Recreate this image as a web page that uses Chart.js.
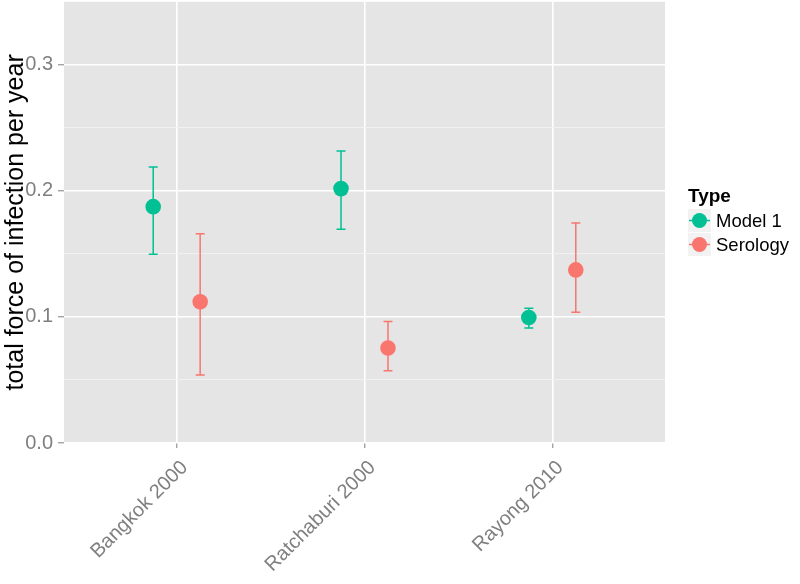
<!DOCTYPE html>
<html>
<head>
<meta charset="utf-8">
<script src="https://cdn.jsdelivr.net/npm/chart.js@4/dist/chart.umd.min.js"></script>
<style>
  html, body { margin: 0; padding: 0; background: #fff; }
  #marco { width: 800px; height: 584px; overflow: hidden; }
  #grafico { display: block; }
</style>
</head>
<body>
<div id="marco"><canvas id="grafico" width="800" height="584"></canvas></div>
<script>
// datos
const categorias = ['Bangkok 2000', 'Ratchaburi 2000', 'Rayong 2010'];
const model1 = [0.1875, 0.2018, 0.0995];
const model1Bajo = [0.1497, 0.1696, 0.0913];
const model1Alto = [0.2190, 0.2317, 0.1069];
const serology = [0.1121, 0.0754, 0.1373];
const serologyBajo = [0.0540, 0.0574, 0.1037];
const serologyAlto = [0.1659, 0.0963, 0.1746];
const yTicks = [0, 0.1, 0.2, 0.3];

const series = [
    { nombre: 'Model 1', color: '#00C094', valores: model1, bajo: model1Bajo, alto: model1Alto, dodge: -0.125 },
    { nombre: 'Serology', color: '#F8766D', valores: serology, bajo: serologyBajo, alto: serologyAlto, dodge: 0.125 }
];

const fuente = "'Liberation Sans', Arial, sans-serif";
Chart.defaults.font.family = fuente;

// desplazamiento vertical del lienzo (se ajusta tras el primer dibujo)
let extra = 0;

// fondo gris del panel
const fondoPanel = {
    id: 'fondoPanel',
    beforeDraw(chart) {
        const a = chart.chartArea;
        const ctx = chart.ctx;
        ctx.save();
        ctx.fillStyle = '#E5E5E5';
        ctx.fillRect(a.left, a.top, a.right - a.left, a.bottom - a.top);
        ctx.restore();
    }
};

// barras de error
const barrasError = {
    id: 'barrasError',
    beforeDatasetsDraw(chart) {
        const ctx = chart.ctx;
        const y = chart.scales.y;
        ctx.save();
        ctx.lineWidth = 1.5;
        series.forEach((s, di) => {
            const meta = chart.getDatasetMeta(di);
            ctx.strokeStyle = s.color;
            meta.data.forEach((p, i) => {
                const y1 = y.getPixelForValue(s.bajo[i]);
                const y2 = y.getPixelForValue(s.alto[i]);
                ctx.beginPath();
                ctx.moveTo(p.x, y1); ctx.lineTo(p.x, y2);
                ctx.moveTo(p.x - 4.5, y1); ctx.lineTo(p.x + 4.5, y1);
                ctx.moveTo(p.x - 4.5, y2); ctx.lineTo(p.x + 4.5, y2);
                ctx.stroke();
            });
        });
        ctx.restore();
    }
};

// leyenda estilo ggplot
const leyenda = {
    id: 'leyenda',
    afterDraw(chart) {
        const ctx = chart.ctx;
        const x0 = 688, y0 = 209 + extra, lado = 23;
        ctx.save();
        ctx.fillStyle = '#000';
        ctx.font = 'bold 19px ' + fuente;
        ctx.textBaseline = 'alphabetic';
        ctx.fillText('Type', x0, 202 + extra);
        series.forEach((s, i) => {
            const ky = y0 + i * (lado + 1);
            ctx.fillStyle = '#F2F2F2';
            ctx.fillRect(x0, ky, lado, lado);
            ctx.strokeStyle = s.color;
            ctx.lineWidth = 1.5;
            ctx.beginPath();
            ctx.moveTo(x0 + 1, ky + lado / 2);
            ctx.lineTo(x0 + lado - 1, ky + lado / 2);
            ctx.stroke();
            ctx.fillStyle = s.color;
            ctx.beginPath();
            ctx.arc(x0 + lado / 2, ky + lado / 2, 7.5, 0, Math.PI * 2);
            ctx.fill();
            ctx.fillStyle = '#000';
            ctx.font = '18.5px ' + fuente;
            ctx.textBaseline = 'middle';
            ctx.fillText(s.nombre, x0 + lado + 5, ky + lado / 2 + 1);
        });
        ctx.restore();
    }
};

const esMayor = v => yTicks.some(t => Math.abs(t - v) < 1e-9);

function crearGrafico(lienzo) {
    return new Chart(lienzo, {
        type: 'scatter',
        data: {
            datasets: series.map(s => ({
                label: s.nombre,
                data: s.valores.map((v, i) => ({ x: i + 1 + s.dodge, y: v })),
                backgroundColor: s.color,
                borderWidth: 0,
                pointRadius: 7.8,
                pointHoverRadius: 7.8
            }))
        },
        options: {
            responsive: false,
            animation: false,
            devicePixelRatio: 1,
            layout: { padding: { top: 0, right: 135, left: 0, bottom: 0 } },
            plugins: { legend: { display: false }, tooltip: { enabled: false } },
            scales: {
                x: {
                    type: 'linear',
                    min: 0.4,
                    max: 3.6,
                    afterBuildTicks: sc => { sc.ticks = categorias.map((c, i) => ({ value: i + 1 })); },
                    afterFit: sc => { sc.height = 141; sc.paddingLeft = 0; sc.paddingRight = 0; },
                    border: { display: false },
                    grid: { color: '#FFFFFF', lineWidth: 1.6, tickColor: '#7F7F7F', tickLength: 5, tickWidth: 1 },
                    ticks: {
                        autoSkip: false,
                        minRotation: 45,
                        maxRotation: 45,
                        padding: 8,
                        labelOffset: 8,
                        color: '#7F7F7F',
                        font: { size: 20 },
                        callback: v => categorias[Math.round(v) - 1]
                    }
                },
                y: {
                    min: 0,
                    max: 0.35,
                    afterBuildTicks: sc => {
                        const t = [];
                        for (let k = 0; k <= 6; k++) t.push({ value: k * 0.05 });
                        sc.ticks = t;
                    },
                    afterFit: sc => { sc.width = 64; sc.paddingTop = 0; sc.paddingBottom = 0; },
                    border: { display: false },
                    grid: {
                        color: c => esMayor(c.tick.value) ? '#FFFFFF' : '#F2F2F2',
                        lineWidth: c => esMayor(c.tick.value) ? 1.6 : 0.9,
                        tickColor: c => esMayor(c.tick.value) ? '#7F7F7F' : 'rgba(0,0,0,0)',
                        tickLength: 6,
                        tickWidth: 1
                    },
                    ticks: {
                        autoSkip: false,
                        padding: 5,
                        color: '#7F7F7F',
                        font: { size: 20 },
                        callback: v => esMayor(v) ? v.toFixed(1) : ''
                    },
                    title: {
                        display: true,
                        text: 'total force of infection per year',
                        color: '#000',
                        font: { size: 25 },
                        padding: { top: 1, bottom: 0 }
                    }
                }
            }
        },
        plugins: [fondoPanel, barrasError, leyenda]
    });
}

window.onload = function () {
    const lienzo = document.getElementById('grafico');
    let chart = crearGrafico(lienzo);

    // el panel debe empezar en y = 2: si Chart.js deja más margen arriba,
    // se rehace con un lienzo más alto y se sube
    const sobra = Math.round(chart.chartArea.top - 2);
    if (sobra > 0) {
        chart.destroy();
        extra = sobra;
        lienzo.width = 800;
        lienzo.height = 584 + extra;
        lienzo.style.marginTop = (-extra) + 'px';
        chart = crearGrafico(lienzo);
    }
};
</script>
</body>
</html>
